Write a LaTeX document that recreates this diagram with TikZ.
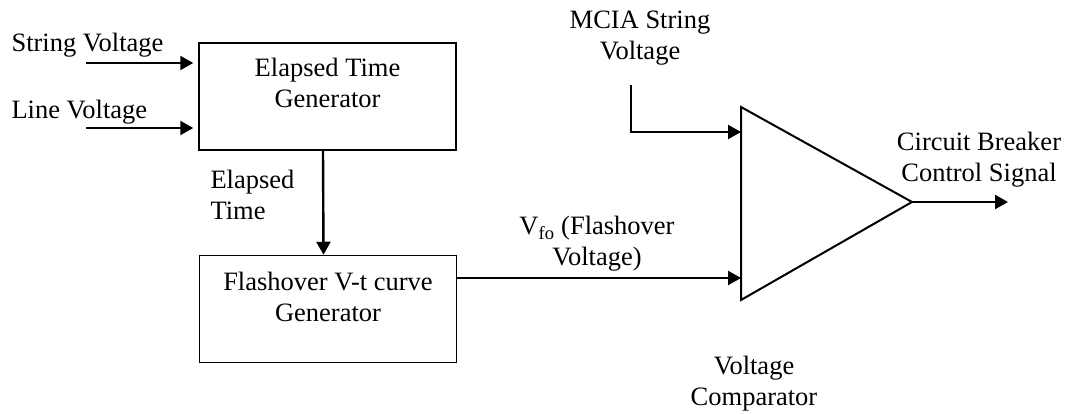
\documentclass[tikz,border=0pt]{standalone}
\usepackage{fontspec}
\setmainfont{Liberation Serif}
\usetikzlibrary{arrows.meta}
\begin{document}
\begin{tikzpicture}[x=1pt,y=-1pt,
		every node/.style={font=\fontsize{26.5}{31}\selectfont},
		block/.style={draw,line width=1.5pt,minimum width=257pt,minimum height=107pt,inner sep=0pt,align=center},
		sig/.style={line width=2.4pt,-{Triangle[length=13pt,width=14pt]}}]
		\useasboundingbox (0,0) rectangle (1072,414);
		% blocks
		\node[block] (etg) at (327.5,96.5) {Elapsed Time\\Generator\\[-12pt]\strut};
		\node[block] (fvt) at (328,309) {Flashover V-t curve\\Generator\\[-16pt]\strut};
		% comparator
		\coordinate (cmptop) at (741,107);
		\coordinate (cmpbot) at (741,300);
		\coordinate (cmpout) at (912,202);
		\draw[line width=2pt,line join=miter] (cmptop) -- (cmpout) -- (cmpbot) -- cycle;
		\coordinate (cmpin1) at (741,132);
		\coordinate (cmpin2) at (741,278);
		
		% inputs
		\node[anchor=west] (sv) at (8,45) {String Voltage};
		\node[anchor=west] (lv) at (8,112) {Line Voltage};
		\coordinate (svin) at (86,63);
		\coordinate (lvin) at (86,128);
		\draw[sig,shorten >=5pt] (svin) -- (svin -| etg.west);
		\draw[sig,shorten >=5pt] (lvin) -- (lvin -| etg.west);
		
		% elapsed time
		\node[anchor=west,align=left] (et) at (207,195) {Elapsed\\Time};
		\draw[sig] ([xshift=-4.5pt]etg.south) -- ([xshift=-4.5pt]fvt.north);
		
		% flashover voltage
		\node[align=center] (vfo) at (597,244) {V\textsubscript{fo} (Flashover\\Voltage)};
		\draw[sig] (fvt.east |- cmpin2) -- (cmpin2);
		
		% MCIA string voltage
		\node[align=center] (mcia) at (640,38) {MCIA String\\Voltage};
		\coordinate (mciatop) at (631,85);
		\draw[sig,line join=miter] (mciatop) -- (mciatop |- cmpin1) -- (cmpin1);
		
		% output
		\node[align=center] (cbcs) at (979,160) {Circuit Breaker\\Control Signal};
		\coordinate (cbout) at (1008,202);
		\draw[sig] (cmpout) -- (cbout);
		\node[align=center] (vc) at (754,384) {Voltage\\Comparator};
	\end{tikzpicture}
\end{document}
